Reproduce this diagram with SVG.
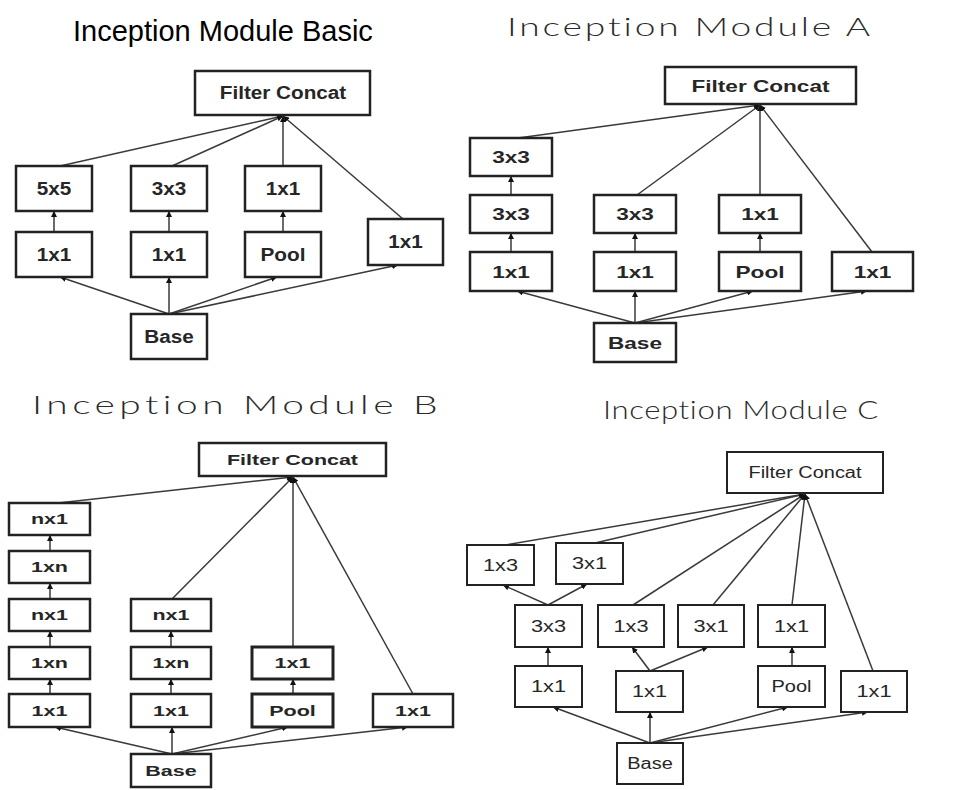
<svg xmlns="http://www.w3.org/2000/svg" width="953" height="790" viewBox="0 0 953 790">
<style>
.bg{fill:#fff}
.bx{fill:#fff;stroke:#222;stroke-width:2.5}
.bxc{fill:#fff;stroke:#222;stroke-width:2}
.ln{fill:none;stroke:#3a3a3a;stroke-width:1.5;marker-end:url(#ah)}
.lb{font-family:"Liberation Sans",Arial,sans-serif;font-weight:bold;fill:#262626;text-anchor:middle}
.lr{font-family:"Liberation Sans",Arial,sans-serif;font-weight:normal;fill:#262626;text-anchor:middle}
.s0{font-size:18px}
.sA{font-size:16.5px}
.sB{font-size:14.5px}
.sC{font-size:16px}
.t0{font-family:"Liberation Sans",Arial,sans-serif;font-size:29px;fill:#000}
.tt{font-family:Lato,Inter,"Noto Sans",sans-serif;font-weight:300;font-size:26px;fill:#2a2a2a}
</style>
<defs>
<marker id="ah" viewBox="0 0 6 6" refX="6" refY="3" markerWidth="6" markerHeight="6" markerUnits="userSpaceOnUse" orient="auto">
<path d="M0,0 L6,3 L0,6 z" fill="#111"/>
</marker>
</defs>
<rect class="bg" x="0" y="0" width="953" height="790"/>

<text class="t0" x="73" y="41">Inception Module Basic</text>
<text class="tt" x="507" y="36" textLength="366" lengthAdjust="spacingAndGlyphs" style="letter-spacing:2px">Inception Module A</text>
<text class="tt" x="32" y="414" textLength="410" lengthAdjust="spacingAndGlyphs" style="letter-spacing:3px">Inception Module B</text>
<text class="tt" x="603" y="419" textLength="276" lengthAdjust="spacingAndGlyphs" style="font-size:25px;letter-spacing:0.5px">Inception Module C</text>

<g id="connectors">
<!-- Basic -->
<path class="ln" d="M60,166 L283,116"/>
<path class="ln" d="M172,166 L283,116"/>
<path class="ln" d="M283,166 L283,116"/>
<path class="ln" d="M403,219 L283,116"/>
<path class="ln" d="M54,232 L54,211"/>
<path class="ln" d="M169,232 L169,211"/>
<path class="ln" d="M283,232 L283,211"/>
<path class="ln" d="M169,314 L60,277"/>
<path class="ln" d="M169,314 L169,277"/>
<path class="ln" d="M169,314 L277,277"/>
<path class="ln" d="M169,314 L398,265"/>
<!-- A -->
<path class="ln" d="M518,138 L760,105"/>
<path class="ln" d="M637,195 L760,105"/>
<path class="ln" d="M760,195 L760,105"/>
<path class="ln" d="M872,252 L760,105"/>
<path class="ln" d="M511,195 L511,176"/>
<path class="ln" d="M511,252 L511,233"/>
<path class="ln" d="M635,252 L635,233"/>
<path class="ln" d="M760,252 L760,233"/>
<path class="ln" d="M635,323 L517,291"/>
<path class="ln" d="M635,323 L635,291"/>
<path class="ln" d="M635,323 L753,291"/>
<path class="ln" d="M635,323 L867,291"/>
<!-- B -->
<path class="ln" d="M58,503 L293,477"/>
<path class="ln" d="M172,599 L293,477"/>
<path class="ln" d="M293,647 L293,477"/>
<path class="ln" d="M413,694 L293,477"/>
<path class="ln" d="M50,551 L50,535"/>
<path class="ln" d="M50,599 L50,583"/>
<path class="ln" d="M50,647 L50,631"/>
<path class="ln" d="M50,694 L50,679"/>
<path class="ln" d="M171,647 L171,631"/>
<path class="ln" d="M171,694 L171,679"/>
<path class="ln" d="M293,694 L293,679"/>
<path class="ln" d="M172,754 L55,727"/>
<path class="ln" d="M172,754 L172,727"/>
<path class="ln" d="M172,754 L288,727"/>
<path class="ln" d="M172,754 L408,727"/>
<!-- C -->
<path class="ln" d="M505,545 L805,494"/>
<path class="ln" d="M595,543 L805,494"/>
<path class="ln" d="M633,605 L805,494"/>
<path class="ln" d="M713,605 L805,494"/>
<path class="ln" d="M792,605 L805,494"/>
<path class="ln" d="M873,671 L805,494"/>
<path class="ln" d="M548,605 L503,585"/>
<path class="ln" d="M548,605 L587,584"/>
<path class="ln" d="M548,666 L548,647"/>
<path class="ln" d="M650,671 L632,647"/>
<path class="ln" d="M650,671 L708,647"/>
<path class="ln" d="M792,666 L792,647"/>
<path class="ln" d="M650,743 L553,707"/>
<path class="ln" d="M650,743 L650,712"/>
<path class="ln" d="M650,743 L788,707"/>
<path class="ln" d="M650,743 L868,712"/>
</g>

<!-- Basic nodes -->
<g id="basic-concat"><rect class="bx" x="195" y="71" width="175" height="44"/><text class="lb s0" x="283" y="99" textLength="126.5" lengthAdjust="spacingAndGlyphs">Filter Concat</text></g>
<g id="basic-5x5"><rect class="bx" x="16" y="166" width="76" height="45"/><text class="lb s0" x="54" y="194.5" textLength="34.5" lengthAdjust="spacingAndGlyphs">5x5</text></g>
<g id="basic-3x3"><rect class="bx" x="131" y="166" width="76" height="45"/><text class="lb s0" x="169" y="194.5" textLength="34.5" lengthAdjust="spacingAndGlyphs">3x3</text></g>
<g id="basic-1x1a"><rect class="bx" x="245" y="166" width="76" height="45"/><text class="lb s0" x="283" y="194.5" textLength="34.5" lengthAdjust="spacingAndGlyphs">1x1</text></g>
<g id="basic-1x1b"><rect class="bx" x="16" y="232" width="76" height="45"/><text class="lb s0" x="54" y="260.5" textLength="34.5" lengthAdjust="spacingAndGlyphs">1x1</text></g>
<g id="basic-1x1c"><rect class="bx" x="131" y="232" width="76" height="45"/><text class="lb s0" x="169" y="260.5" textLength="34.5" lengthAdjust="spacingAndGlyphs">1x1</text></g>
<g id="basic-pool"><rect class="bx" x="245" y="232" width="76" height="45"/><text class="lb s0" x="283" y="260.5" textLength="45" lengthAdjust="spacingAndGlyphs">Pool</text></g>
<g id="basic-1x1d"><rect class="bx" x="368" y="219" width="75" height="46"/><text class="lb s0" x="405.5" y="248" textLength="34.5" lengthAdjust="spacingAndGlyphs">1x1</text></g>
<g id="basic-base"><rect class="bx" x="131" y="314" width="76" height="45"/><text class="lb s0" x="169" y="343" textLength="49.5" lengthAdjust="spacingAndGlyphs">Base</text></g>

<!-- Module A nodes -->
<g id="a-concat"><rect class="bx" x="665" y="67" width="191" height="37"/><text class="lb sA" x="760.5" y="91.5" textLength="138" lengthAdjust="spacingAndGlyphs">Filter Concat</text></g>
<g id="a-3x3a"><rect class="bx" x="470" y="138" width="82" height="38"/><text class="lb sA" x="511" y="163" textLength="37.7" lengthAdjust="spacingAndGlyphs">3x3</text></g>
<g id="a-3x3b"><rect class="bx" x="470" y="195" width="82" height="38"/><text class="lb sA" x="511" y="220" textLength="37.7" lengthAdjust="spacingAndGlyphs">3x3</text></g>
<g id="a-1x1a"><rect class="bx" x="470" y="252" width="82" height="39"/><text class="lb sA" x="511" y="277.5" textLength="37.7" lengthAdjust="spacingAndGlyphs">1x1</text></g>
<g id="a-3x3c"><rect class="bx" x="594" y="195" width="82" height="38"/><text class="lb sA" x="635" y="220" textLength="37.7" lengthAdjust="spacingAndGlyphs">3x3</text></g>
<g id="a-1x1b"><rect class="bx" x="594" y="252" width="82" height="39"/><text class="lb sA" x="635" y="277.5" textLength="37.7" lengthAdjust="spacingAndGlyphs">1x1</text></g>
<g id="a-1x1c"><rect class="bx" x="719" y="195" width="82" height="38"/><text class="lb sA" x="760" y="220" textLength="37.7" lengthAdjust="spacingAndGlyphs">1x1</text></g>
<g id="a-pool"><rect class="bx" x="719" y="252" width="82" height="39"/><text class="lb sA" x="760" y="277.5" textLength="49" lengthAdjust="spacingAndGlyphs">Pool</text></g>
<g id="a-1x1d"><rect class="bx" x="832" y="252" width="81" height="39"/><text class="lb sA" x="872.5" y="277.5" textLength="37.7" lengthAdjust="spacingAndGlyphs">1x1</text></g>
<g id="a-base"><rect class="bx" x="594" y="323" width="82" height="39"/><text class="lb sA" x="635" y="348.5" textLength="54" lengthAdjust="spacingAndGlyphs">Base</text></g>

<!-- Module B nodes -->
<g id="b-concat"><rect class="bx" x="199" y="443" width="187" height="33"/><text class="lb sB" x="292.5" y="464.5" textLength="131" lengthAdjust="spacingAndGlyphs">Filter Concat</text></g>
<g id="b-nx1a"><rect class="bx" x="9" y="503" width="81" height="32"/><text class="lb sB" x="49.5" y="524" textLength="37" lengthAdjust="spacingAndGlyphs">nx1</text></g>
<g id="b-1xna"><rect class="bx" x="9" y="551" width="81" height="32"/><text class="lb sB" x="49.5" y="572" textLength="37" lengthAdjust="spacingAndGlyphs">1xn</text></g>
<g id="b-nx1b"><rect class="bx" x="9" y="599" width="81" height="32"/><text class="lb sB" x="49.5" y="620" textLength="37" lengthAdjust="spacingAndGlyphs">nx1</text></g>
<g id="b-1xnb"><rect class="bx" x="9" y="647" width="81" height="32"/><text class="lb sB" x="49.5" y="668" textLength="37" lengthAdjust="spacingAndGlyphs">1xn</text></g>
<g id="b-1x1a"><rect class="bx" x="9" y="694" width="81" height="33"/><text class="lb sB" x="49.5" y="715.5" textLength="35.9" lengthAdjust="spacingAndGlyphs">1x1</text></g>
<g id="b-nx1c"><rect class="bx" x="131" y="599" width="80" height="32"/><text class="lb sB" x="171" y="620" textLength="37" lengthAdjust="spacingAndGlyphs">nx1</text></g>
<g id="b-1xnc"><rect class="bx" x="131" y="647" width="80" height="32"/><text class="lb sB" x="171" y="668" textLength="37" lengthAdjust="spacingAndGlyphs">1xn</text></g>
<g id="b-1x1b"><rect class="bx" x="131" y="694" width="80" height="33"/><text class="lb sB" x="171" y="715.5" textLength="35.9" lengthAdjust="spacingAndGlyphs">1x1</text></g>
<g id="b-1x1c"><rect class="bx" x="252" y="647" width="81" height="32" style="stroke-width:3"/><text class="lb sB" x="292.5" y="668" textLength="35.9" lengthAdjust="spacingAndGlyphs">1x1</text></g>
<g id="b-pool"><rect class="bx" x="252" y="694" width="81" height="33" style="stroke-width:3"/><text class="lb sB" x="292.5" y="715.5" textLength="46.6" lengthAdjust="spacingAndGlyphs">Pool</text></g>
<g id="b-1x1d"><rect class="bx" x="373" y="694" width="80" height="33"/><text class="lb sB" x="413" y="715.5" textLength="35.9" lengthAdjust="spacingAndGlyphs">1x1</text></g>
<g id="b-base"><rect class="bx" x="131" y="754" width="80" height="33"/><text class="lb sB" x="171" y="775.5" textLength="51.4" lengthAdjust="spacingAndGlyphs">Base</text></g>

<!-- Module C nodes -->
<g id="c-concat"><rect class="bxc" x="727" y="452" width="156" height="41"/><text class="lr sC" x="805" y="478" textLength="113" lengthAdjust="spacingAndGlyphs">Filter Concat</text></g>
<g id="c-1x3a"><rect class="bxc" x="467" y="545" width="67" height="40"/><text class="lr sC" x="500.5" y="571" textLength="35" lengthAdjust="spacingAndGlyphs">1x3</text></g>
<g id="c-3x1a"><rect class="bxc" x="556" y="543" width="67" height="41"/><text class="lr sC" x="589.5" y="569" textLength="35" lengthAdjust="spacingAndGlyphs">3x1</text></g>
<g id="c-3x3"><rect class="bxc" x="515" y="605" width="67" height="42"/><text class="lr sC" x="548.5" y="632" textLength="35" lengthAdjust="spacingAndGlyphs">3x3</text></g>
<g id="c-1x3b"><rect class="bxc" x="598" y="605" width="66" height="42"/><text class="lr sC" x="631" y="632" textLength="35" lengthAdjust="spacingAndGlyphs">1x3</text></g>
<g id="c-3x1b"><rect class="bxc" x="678" y="605" width="66" height="42"/><text class="lr sC" x="711" y="632" textLength="35" lengthAdjust="spacingAndGlyphs">3x1</text></g>
<g id="c-1x1a"><rect class="bxc" x="758" y="605" width="67" height="42"/><text class="lr sC" x="791.5" y="632" textLength="35" lengthAdjust="spacingAndGlyphs">1x1</text></g>
<g id="c-1x1b"><rect class="bxc" x="515" y="666" width="67" height="41"/><text class="lr sC" x="548.5" y="692" textLength="35" lengthAdjust="spacingAndGlyphs">1x1</text></g>
<g id="c-1x1c"><rect class="bxc" x="616" y="671" width="67" height="41"/><text class="lr sC" x="649.5" y="697" textLength="35" lengthAdjust="spacingAndGlyphs">1x1</text></g>
<g id="c-pool"><rect class="bxc" x="758" y="666" width="67" height="41"/><text class="lr sC" x="791.5" y="692" textLength="40" lengthAdjust="spacingAndGlyphs">Pool</text></g>
<g id="c-1x1d"><rect class="bxc" x="841" y="671" width="66" height="41"/><text class="lr sC" x="874" y="697" textLength="35" lengthAdjust="spacingAndGlyphs">1x1</text></g>
<g id="c-base"><rect class="bxc" x="617" y="743" width="66" height="41"/><text class="lr sC" x="650" y="769" textLength="45.6" lengthAdjust="spacingAndGlyphs">Base</text></g>
</svg>
